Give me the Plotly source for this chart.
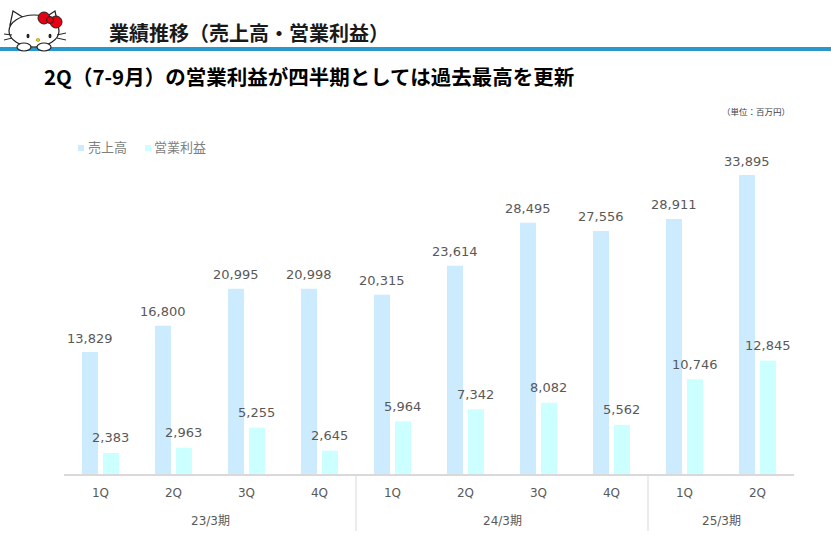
import plotly.graph_objects as go

# ---- data ----
quarters = ["1Q", "2Q", "3Q", "4Q", "1Q", "2Q", "3Q", "4Q", "1Q", "2Q"]
fiscal = ["23/3期"] * 4 + ["24/3期"] * 4 + ["25/3期"] * 2
sales = [13829, 16800, 20995, 20998, 20315, 23614, 28495, 27556, 28911, 33895]
profit = [2383, 2963, 5255, 2645, 5964, 7342, 8082, 5562, 10746, 12845]
series_names = ["売上高", "営業利益"]
title_text = "業績推移（売上高・営業利益）"
subtitle_text = "2Q（7-9月）の営業利益が四半期としては過去最高を更新"
unit_text = "（単位：百万円）"

# ---- style ----
W, H = 831, 549
ML, MR, MT, MB = 64, 37, 156, 75
PW, PH = W - ML - MR, H - MT - MB
C_SALES = "#CCEBFF"
C_PROFIT = "#CCFFFF"
TXT = "#595959"
FONT = "DejaVu Sans, Noto Sans CJK JP, sans-serif"
CJK = "Noto Sans CJK JP, sans-serif"
BARGAP, GROUPGAP = 0.425, 0.238


def X(px):
    return (px - ML) / PW


def Y(py):
    return (H - MB - py) / PH


xs = list(range(len(quarters)))
fig = go.Figure()
fig.add_trace(go.Bar(x=xs, y=sales, name=series_names[0], marker_color=C_SALES,
                     marker_line_width=0, showlegend=False))
fig.add_trace(go.Bar(x=xs, y=profit, name=series_names[1], marker_color=C_PROFIT,
                     marker_line_width=0, showlegend=False))

ann = []
off = (1 - BARGAP) / 4
for i, (s, p) in enumerate(zip(sales, profit)):
    ann.append(dict(x=i - off, y=s, xref="x", yref="y", text=f"{s:,}", showarrow=False,
                    yanchor="middle", yshift=14, font=dict(family=FONT, size=13, color=TXT)))
    ann.append(dict(x=i + off, y=p, xref="x", yref="y", text=f"{p:,}", showarrow=False,
                    yanchor="middle", yshift=15, font=dict(family=FONT, size=13, color=TXT)))

# fiscal year group labels & separators
shapes = []
groups = []
for i, f in enumerate(fiscal):
    if not groups or groups[-1][0] != f:
        groups.append([f, i, i])
    else:
        groups[-1][2] = i
for gi, (f, a, b) in enumerate(groups):
    ann.append(dict(x=(a + b) / 2, y=Y(521), xref="x", yref="paper", text=f, showarrow=False,
                    yanchor="middle", font=dict(family=FONT, size=12, color=TXT)))
    if gi > 0:
        shapes.append(dict(type="line", xref="x", yref="paper", x0=a - 0.5, x1=a - 0.5,
                           y0=0, y1=Y(531), line=dict(color="#D9D9D9", width=1)))

# titles
ann.append(dict(x=X(107), y=Y(33), xref="paper", yref="paper", xanchor="left", yanchor="middle",
                text=f"<b>{title_text}</b>", showarrow=False,
                font=dict(family=CJK, size=20, color="#1a1a1a")))
ann.append(dict(x=X(42), y=Y(76), xref="paper", yref="paper", xanchor="left", yanchor="middle",
                text=f"<b>{subtitle_text}</b>", showarrow=False,
                font=dict(family=CJK, size=20.5, color="#000000")))
ann.append(dict(x=X(792), y=Y(111), xref="paper", yref="paper", xanchor="right", yanchor="middle",
                text=unit_text, showarrow=False, font=dict(family=CJK, size=8.5, color="#404040")))

# manual legend
for (sx, tx), name, col in zip([(78, 86), (145, 152)], series_names, [C_SALES, C_PROFIT]):
    shapes.append(dict(type="rect", xref="paper", yref="paper", x0=X(sx), x1=X(sx + 6),
                       y0=Y(151), y1=Y(145), fillcolor=col, line_width=0))
    ann.append(dict(x=X(tx), y=Y(147), xref="paper", yref="paper", xanchor="left",
                    yanchor="middle", text=name, showarrow=False,
                    font=dict(family=CJK, size=13, color="#7F7F7F")))

# header blue rule
shapes.append(dict(type="rect", xref="paper", yref="paper", x0=X(0), x1=X(W), y0=Y(51), y1=Y(47),
                   fillcolor="#2A98CB", line_width=0, layer="above"))


# simple kitty mascot
def ell(cx, cy, rx, ry, fill, lc="#222222", lw=1.2):
    return dict(type="circle", xref="paper", yref="paper", x0=X(cx - rx), x1=X(cx + rx),
                y0=Y(cy + ry), y1=Y(cy - ry), fillcolor=fill,
                line=dict(color=lc, width=lw), layer="above")


def path(pts, fill="white", lc="#222222", lw=1.2, close=True):
    d = "M" + " L".join(f"{X(a)},{Y(b)}" for a, b in pts) + (" Z" if close else "")
    return dict(type="path", xref="paper", yref="paper", path=d, fillcolor=fill if close else None,
                line=dict(color=lc, width=lw), layer="above")


shapes += [
    path([(10, 25), (13, 11), (24, 18)]),
    path([(46, 17), (55, 11), (58, 25)]),
    ell(34, 31, 25, 16, "white"),
    ell(24, 47, 7, 4, "white"),
    ell(44, 47, 7, 4, "white"),
    ell(28, 36, 1.5, 2.2, "#222222", lw=0),
    ell(50, 36, 1.5, 2.2, "#222222", lw=0),
    ell(38, 40, 1.8, 1.4, "#F2D21B", lc="#8a7a00", lw=0.6),
    ell(44, 18, 6, 6, "#E60012", lc="#222222", lw=1),
    ell(56, 22, 6, 6, "#E60012", lc="#222222", lw=1),
    ell(50, 20, 3.5, 3.5, "#E60012", lc="#222222", lw=1),
    path([(4, 34), (12, 35)], close=False, lw=1),
    path([(4, 40), (12, 38)], close=False, lw=1),
    path([(57, 35), (66, 33)], close=False, lw=1),
    path([(57, 38), (66, 40)], close=False, lw=1),
]

fig.update_layout(
    width=W, height=H,
    margin=dict(l=ML, r=MR, t=MT, b=MB, autoexpand=False),
    paper_bgcolor="white", plot_bgcolor="white",
    barmode="group", bargap=BARGAP, bargroupgap=GROUPGAP,
    font=dict(family=FONT, color=TXT),
    xaxis=dict(range=[-0.5, len(xs) - 0.5], tickmode="array", tickvals=xs, ticktext=quarters,
               showgrid=False, zeroline=False, showline=True, linecolor="#D9D9D9", linewidth=1.5,
               ticks="outside", ticklen=7, tickcolor="rgba(0,0,0,0)",
               tickfont=dict(family=FONT, size=12, color=TXT), fixedrange=True),
    yaxis=dict(range=[0, 36050], visible=False, fixedrange=True),
    annotations=ann, shapes=shapes, showlegend=False,
)

fig.write_html("out.html", config={"displayModeBar": False},
               post_script="document.body.style.margin='0';")
